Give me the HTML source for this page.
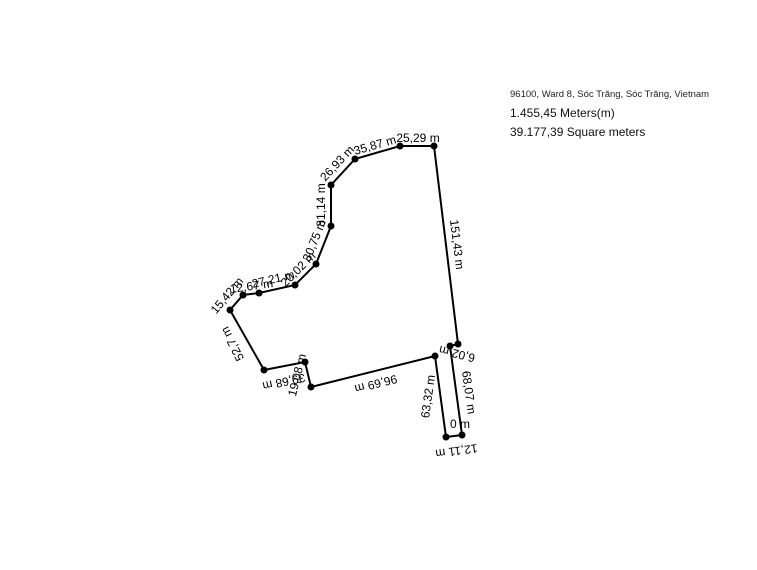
<!DOCTYPE html>
<html><head><meta charset="utf-8"><style>
html,body{margin:0;padding:0;background:#fff;}
svg{display:block;font-family:"Liberation Sans",sans-serif;}
</style></head><body>
<svg width="757" height="570" viewBox="0 0 757 570">
<rect width="757" height="570" fill="#fff"/>
<text x="510" y="97" font-size="9.5" fill="#222">96100, Ward 8, Sóc Trăng, Sóc Trăng, Vietnam</text>
<text x="510" y="117" font-size="12" fill="#111">1.455,45 Meters(m)</text>
<text x="510" y="136" font-size="12" fill="#111">39.177,39 Square meters</text>
<polyline fill="none" stroke="#000" stroke-width="2" points="434,146 458,344 450,346 462,435 446,437 435,356 311,387 305,362 264,370 230,310 243,295 259,293 295,285 316,264 331,226 331,185 355,159 400,146 434,146"/>
<g fill="#000">
<circle cx="434" cy="146" r="3.5"/><circle cx="458" cy="344" r="3.5"/><circle cx="450" cy="346" r="3.5"/>
<circle cx="462" cy="435" r="3.5"/><circle cx="446" cy="437" r="3.5"/><circle cx="435" cy="356" r="3.5"/>
<circle cx="311" cy="387" r="3.5"/><circle cx="305" cy="362" r="3.5"/><circle cx="264" cy="370" r="3.5"/>
<circle cx="230" cy="310" r="3.5"/><circle cx="243" cy="295" r="3.5"/><circle cx="259" cy="293" r="3.5"/>
<circle cx="295" cy="285" r="3.5"/><circle cx="316" cy="264" r="3.5"/><circle cx="331" cy="226" r="3.5"/>
<circle cx="331" cy="185" r="3.5"/><circle cx="355" cy="159" r="3.5"/><circle cx="400" cy="146" r="3.5"/>
</g>
<g font-size="12" fill="#000" text-anchor="middle">
<text transform="translate(453,245) rotate(83)">151,43 m</text>
<text transform="translate(458,350) rotate(-166)">6,02 m</text>
<text transform="translate(465,393) rotate(82)">68,07 m</text>
<text transform="translate(460,428)">0 m</text>
<text transform="translate(456,447) rotate(172)">12,11 m</text>
<text transform="translate(432,397) rotate(-82)">63,32 m</text>
<text transform="translate(375,380) rotate(166)">96,69 m</text>
<text transform="translate(301,376) rotate(-76)">19,08 m</text>
<text transform="translate(283,378) rotate(168)">39,68 m</text>
<text transform="translate(236,342) rotate(-117)">52,7 m</text>
<text transform="translate(230,298) rotate(-50)">15,42 m</text>
<text transform="translate(252,290) rotate(-8)">12,67 m</text>
<text transform="translate(274,283) rotate(-13)">27,21 m</text>
<text transform="translate(301,272) rotate(-45)">20,02 m</text>
<text transform="translate(318,242) rotate(-68)">30,75 m</text>
<text transform="translate(325,205) rotate(-90)">31,14 m</text>
<text transform="translate(340,166) rotate(-47)">26,93 m</text>
<text transform="translate(376,149) rotate(-16)">35,87 m</text>
<text transform="translate(418,142)">25,29 m</text>
</g>
</svg>
</body></html>
